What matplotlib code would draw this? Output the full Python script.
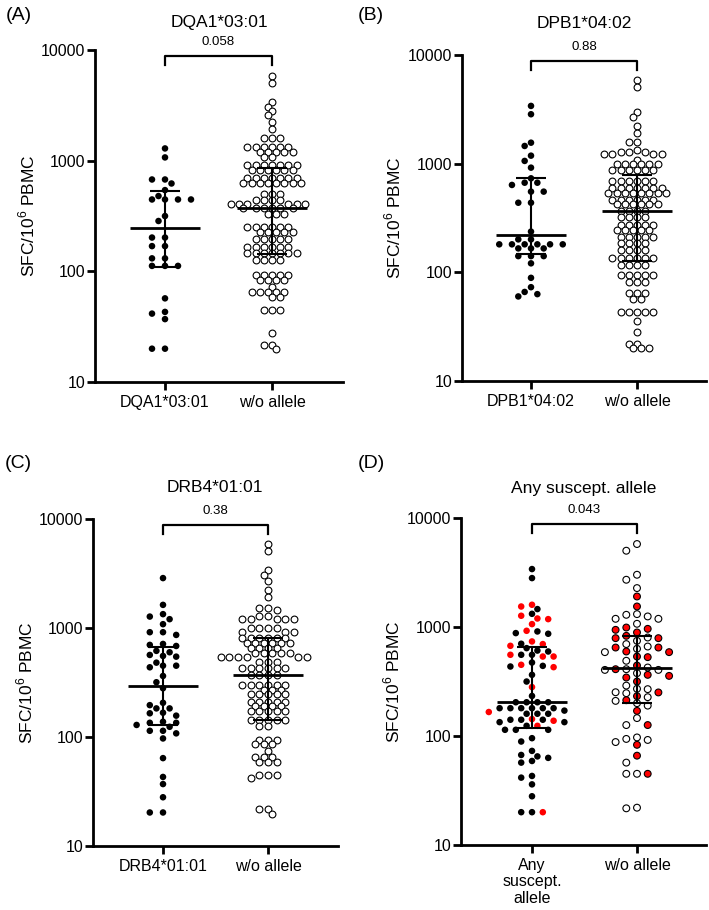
import numpy as np
import matplotlib
matplotlib.use('Agg')
import matplotlib.pyplot as plt
from matplotlib.ticker import NullLocator
from matplotlib.transforms import blended_transform_factory

plt.rcParams['font.family'] = ['Liberation Sans', 'DejaVu Sans']
plt.rcParams['mathtext.fontset'] = 'custom'
plt.rcParams['mathtext.rm'] = 'Liberation Sans'

# ---------------- data (SFC / 10^6 PBMC) ----------------
A_allele = [1290, 1070, 676, 676, 622, 542, 479, 446, 446, 446, 446, 316, 285, 202, 202,
            169, 169, 131, 131, 112, 112, 112, 57, 43, 41.5, 37, 20, 20]
A_wo = [5820, 5070, 3410, 3070, 2800, 2580, 2230, 1945,
        1590, 1590, 1590,
        1340, 1340, 1340, 1340, 1340, 1340,
        1200, 1200, 1200, 1200, 1200,
        1080, 1080,
        912, 912, 912, 912, 912, 912, 912,
        822, 822, 822, 822, 822, 822,
        692, 692, 692, 692, 692, 692, 692,
        623, 623, 623, 623, 623, 623, 623, 623,
        496, 496, 496,
        440, 440, 440, 440,
        410, 410, 410, 410, 410, 410,
        370, 370, 370, 370, 370, 370,
        333, 333, 333,
        251, 251, 251, 251, 251, 251,
        227, 227, 227, 227, 227,
        198, 198, 198, 198, 198,
        166, 166, 166, 166, 166, 166,
        145, 145, 145, 145, 145, 145, 145,
        126, 126, 126, 126,
        92, 92, 92, 92, 92,
        83, 83, 83, 83,
        72,
        65, 65, 65, 65, 65,
        59, 59,
        45, 45, 45,
        28,
        21.8, 21.8, 20]

B_allele = [3400, 2850, 1560, 1455, 1185, 1060, 919, 733, 668, 668, 637, 553, 553, 437, 437,
            237, 201, 201, 181, 181, 181, 181, 181, 181, 166, 166, 166, 141, 141, 141,
            121, 89, 73, 66, 63, 60]
B_wo = [5890, 5040, 3010, 2710, 2220, 1930, 1590, 1590,
        1335, 1290, 1290, 1290, 1227, 1227, 1227, 1227, 1080,
        993, 993, 993, 993, 993, 993,
        875, 875, 875, 875, 875, 875,
        692, 692, 692, 692, 692, 692,
        593, 593, 593, 593, 593, 593, 593,
        541, 541, 541, 541, 541, 541, 541, 541,
        463, 463, 463, 463, 463, 463,
        426, 426, 426, 426, 426, 426,
        370, 370, 370, 370,
        325, 325, 325, 325,
        275, 275, 275, 275, 275,
        245, 245, 245, 245, 245,
        213, 213, 213, 213, 213,
        185, 185, 185, 185,
        161, 161, 161, 161,
        135, 135, 135, 135, 135, 135,
        117, 117, 117, 117,
        94, 94, 94, 94, 94,
        82, 82, 82,
        64, 64, 64,
        57, 57,
        43.5, 43.5, 43.5, 43.5, 43.5,
        36, 28, 21.9, 21.9, 20, 20, 20]

C_allele = [2870, 1630, 1340, 1273, 1205, 1084, 915, 915, 864, 714, 700, 684, 617, 599, 566,
            554, 546, 481, 451, 451, 436, 363, 318, 280, 206, 196, 183, 183, 167, 165, 157,
            138, 135, 135, 129, 124, 114, 114, 108, 97, 64, 43, 37, 28, 20.3, 20.3]
C_wo = [5890, 5050, 3420, 3080, 2710, 2240, 1945, 1540, 1540, 1467, 1300, 1300,
        1213, 1213, 1213, 1213, 1213,
        995, 995, 995, 995,
        927, 927, 927,
        805, 805, 805, 805, 805, 805,
        725, 725, 725, 725, 725, 725,
        652, 652, 652, 652,
        587, 587, 587, 587, 587,
        546, 546, 546, 546, 546, 546,
        491, 491, 491,
        427, 427, 427, 427, 427, 427,
        371, 371, 371, 371,
        300, 300, 300, 300, 300, 300,
        270, 270, 270,
        246, 246, 246, 246, 246,
        210, 210, 210, 210, 210,
        194, 194, 194, 194,
        173, 173, 173, 173, 173,
        143, 143, 143, 143, 143,
        127, 127,
        94, 94, 94,
        87, 87, 87,
        74,
        66, 66, 66,
        59, 59, 59,
        45, 45, 45, 42,
        21.7, 21.7, 19.8]

D_any_black = [3400, 2810, 1460, 1321, 910, 879, 867, 702, 640, 608, 596, 556, 556, 472, 440,
               434, 364, 316, 233, 204, 204, 204, 204, 180, 180, 180, 180, 180, 180, 171,
               160, 160, 160, 141, 141, 141, 134, 134, 124, 114, 114, 114, 95.5, 89, 73, 67,
               65, 63, 59, 57, 43, 41.5, 36, 28, 20, 20]
D_any_red = [1600, 1542, 1268, 1197, 1181, 1063, 923, 737, 697, 672, 556, 536, 536, 450, 428,
             281, 166, 143, 138, 124, 20]
D_wo_open = [5770, 5010, 3015, 2713, 2275, 1313, 1294, 1250, 1189, 1189, 1070, 801, 747, 697,
             662, 631, 588, 490, 425, 410, 404, 404, 377, 290, 271, 269, 252, 247, 227, 210,
             200, 190, 146, 126, 97, 94, 92, 88, 57, 45, 45, 22, 21.7]
D_wo_red = [1905, 1543, 989, 962, 942, 891, 830, 790, 790, 648, 648, 596, 588, 536, 529, 443,
            410, 364, 356, 344, 316, 251, 232, 213, 170, 126, 83, 66, 45]

# median, Q1, Q3 per group
A_stats = [(244, 110, 531), (375, 142, 863)]
B_stats = [(221, 148, 733), (366, 128, 787)]
C_stats = [(296, 129, 674), (371, 143, 805)]
D_stats = [(204, 118, 653), (417, 199, 831)]

titles = ['DQA1*03:01', 'DPB1*04:02', 'DRB4*01:01', 'Any suscept. allele']
letters = ['(A)', '(B)', '(C)', '(D)']
pvals = ['0.058', '0.88', '0.38', '0.043']
cat_labels = [['DQA1*03:01', 'w/o allele'], ['DPB1*04:02', 'w/o allele'],
              ['DRB4*01:01', 'w/o allele'], ['Any\nsuscept.\nallele', 'w/o allele']]

RED = '#ff0000'
W, H = 709, 910
fig = plt.figure(figsize=(W / 100, H / 100), dpi=100)

# panel geometry in pixels: left, right, top(10000), bottom(10), x of cat0, x of cat1
geom = [(95, 343, 50, 382, 165, 272),
        (462, 706, 55, 381, 531, 637),
        (93, 338, 519, 846, 163, 268),
        (461, 706, 518, 845, 532, 637)]
# layout parameters per group: column spacing (px), min point distance (px), half-columns
col_gap = [(13.0, 8.2), (12.7, 8.2), (13.2, 8.6), (10.8, 10.7)]
min_dist = [(7.0, 5.6), (7.0, 5.6), (7.0, 5.6), (6.8, 7.0)]
half_cols = [(True, True), (True, True), (True, True), (True, False)]
title_pos = [(219, 23), (584, 23), (215, 487), (584, 488)]
letter_pos = [(6, 16), (358, 16), (5, 463), (358, 463)]
ylabel_x = [27, 393, 25, 392]


def column_scatter(ax, vals, center, g, dmin, half=True, rowtol=3.0):
    """Prism-like column scatter: x positions on a (half-)grid of spacing g."""
    vals = np.asarray(vals, float)
    ypx = ax.transData.transform(np.column_stack([np.zeros(len(vals)), vals]))[:, 1]
    ppu = ax.transData.transform([[1, 100]])[0, 0] - ax.transData.transform([[0, 100]])[0, 0]
    order = np.argsort(-ypx, kind='stable')
    step = g / 2 if half else g
    placed = []
    xs = np.zeros(len(vals))
    for i in order:
        y = ypx[i]
        near = [(px, py) for px, py in placed if abs(py - y) < max(dmin, rowtol) + 0.1]
        chosen = None
        for m in range(0, 80):
            if m == 0:
                cands = [0.0]
            else:
                left = sum(1 for px, py in near if px < 0)
                right = sum(1 for px, py in near if px > 0)
                cands = [-m * step, m * step]
                if left > right:
                    cands = cands[::-1]
            for c in cands:
                ok = True
                for px, py in near:
                    dx, dy = c - px, y - py
                    if dx * dx + dy * dy < dmin * dmin - 1e-6:
                        ok = False
                        break
                    if abs(dy) < rowtol and abs(dx) < g - 1e-6:
                        ok = False
                        break
                if ok:
                    chosen = c
                    break
            if chosen is not None:
                break
        xs[i] = chosen
        placed.append((chosen, y))
    return center + xs / ppu


groups = [(A_allele, A_wo), (B_allele, B_wo), (C_allele, C_wo), (None, None)]
stats = [A_stats, B_stats, C_stats, D_stats]
S_FILL = 4.7 ** 2
S_OPEN = 4.9 ** 2

for k in range(4):
    l, r, t, b, c0, c1 = geom[k]
    ax = fig.add_axes([l / W, 1 - b / H, (r - l) / W, (b - t) / H])
    unit = c1 - c0
    ax.set_xlim((l - c0) / unit, (r - c0) / unit)
    ax.set_yscale('log')
    ax.set_ylim(10, 10000)
    for s in ['top', 'right']:
        ax.spines[s].set_visible(False)
    for s in ['left', 'bottom']:
        ax.spines[s].set_linewidth(2.0)
    ax.set_yticks([10, 100, 1000, 10000])
    ax.set_yticklabels(['10', '100', '1000', '10000'])
    ax.yaxis.set_minor_locator(NullLocator())
    ax.set_xticks([0, 1])
    ax.set_xticklabels(cat_labels[k], linespacing=1.1)
    ax.tick_params(axis='both', width=2.0, length=5.5, labelsize=11.5, direction='out')
    ax.tick_params(axis='y', pad=1.5)
    ax.tick_params(axis='x', pad=4)

    g1gap, g2gap = col_gap[k]
    d1, d2 = min_dist[k]
    h1, h2 = half_cols[k]
    if k < 3:
        g1, g2 = groups[k]
        x1 = column_scatter(ax, g1, 0, g1gap, d1, h1)
        ax.scatter(x1, g1, s=S_FILL, color='black', edgecolors='none', zorder=3)
        x2 = column_scatter(ax, g2, 1, g2gap, d2, h2)
        ax.scatter(x2, g2, s=S_OPEN, facecolors='white', edgecolors='black',
                   linewidths=0.8, zorder=3)
    else:
        g1 = D_any_black + D_any_red
        col1 = ['black'] * len(D_any_black) + [RED] * len(D_any_red)
        x1 = column_scatter(ax, g1, 0, g1gap, d1, h1)
        ax.scatter(x1, g1, s=S_FILL, c=col1, edgecolors='none', zorder=3)
        g2 = D_wo_open + D_wo_red
        fc2 = ['white'] * len(D_wo_open) + [RED] * len(D_wo_red)
        x2 = column_scatter(ax, g2, 1, g2gap, d2, h2)
        ax.scatter(x2, g2, s=S_OPEN, facecolors=fc2, edgecolors='black',
                   linewidths=0.8, zorder=3)

    for ci, (med, q1, q3) in enumerate(stats[k]):
        ax.plot([ci - 0.33, ci + 0.33], [med, med], color='black', lw=2.0, zorder=5,
                solid_capstyle='butt')
        ax.plot([ci, ci], [q1, q3], color='black', lw=1.5, zorder=5)
        for q in (q1, q3):
            ax.plot([ci - 0.14, ci + 0.14], [q, q], color='black', lw=1.5, zorder=5,
                    solid_capstyle='butt')

    tr = blended_transform_factory(ax.transData, ax.transAxes)
    ax.plot([0, 0, 1, 1], [0.954, 0.983, 0.983, 0.954], transform=tr, color='black',
            lw=1.6, clip_on=False)
    ax.text(0.5, 1.024, pvals[k], transform=tr, ha='center', va='center', fontsize=9.5)

    tx, ty = title_pos[k]
    fig.text(tx / W, 1 - ty / H, titles[k], ha='center', va='center', fontsize=12.5)
    lx, ly = letter_pos[k]
    fig.text(lx / W, 1 - ly / H, letters[k], ha='left', va='center', fontsize=14)
    fig.text(ylabel_x[k] / W, 1 - ((t + b) / 2) / H, r'SFC/10$^{6}$ PBMC', rotation=90,
             ha='center', va='center', fontsize=12.5)

fig.savefig('out.png', dpi=100)
